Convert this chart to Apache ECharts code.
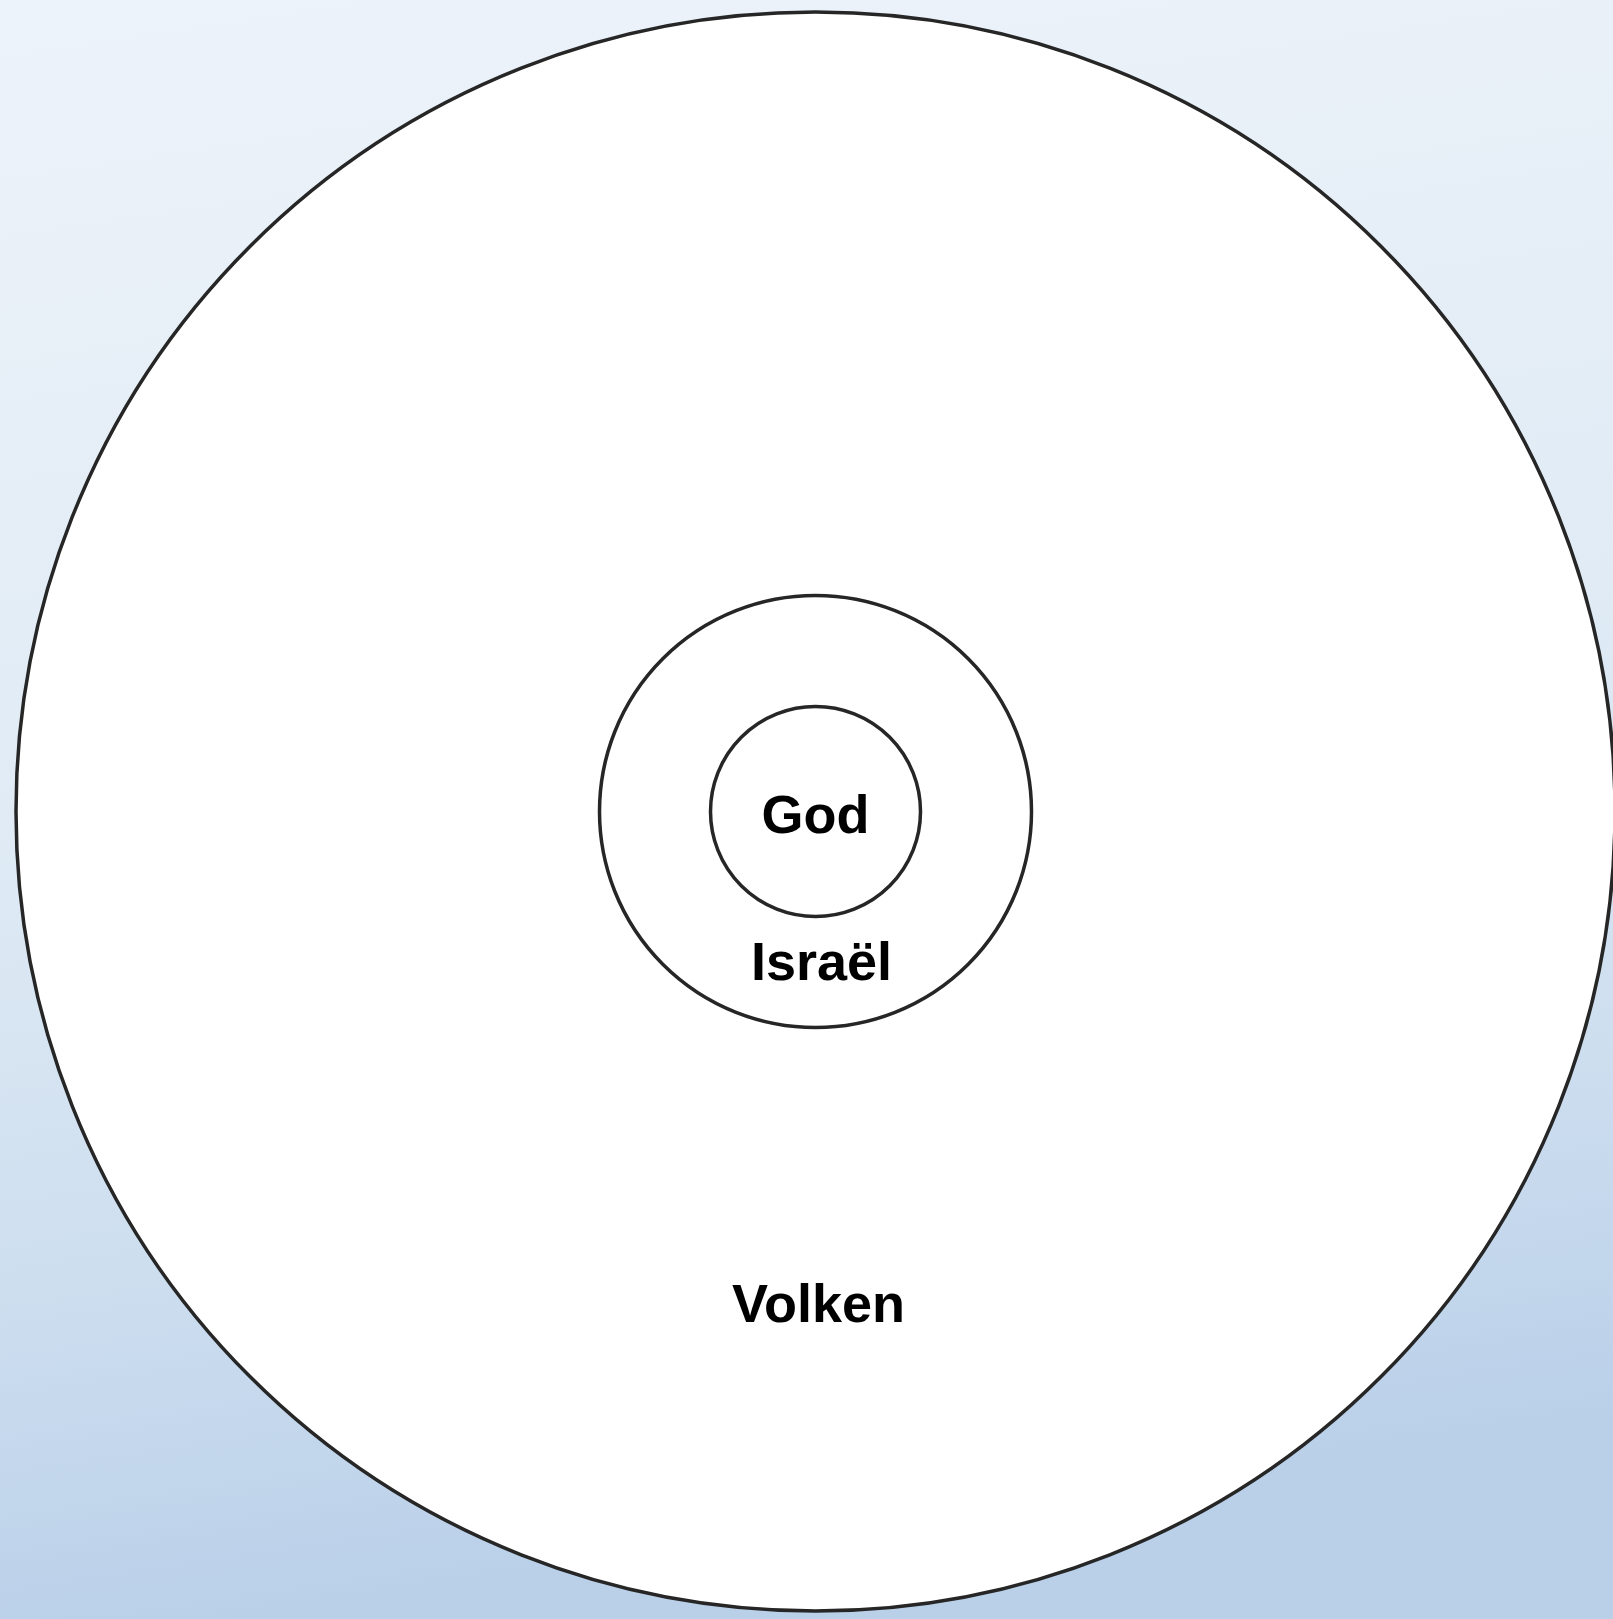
<!DOCTYPE html>
<html>
<head>
<meta charset="utf-8">
<script src="https://cdn.jsdelivr.net/npm/echarts@6/dist/echarts.min.js"></script>
<style>
html,body{margin:0;padding:0;}
#chart{width:1613px;height:1619px;}
</style>
</head>
<body>
<div id="chart"></div>
<script>
// Concentric circles: names, radii (data units), label positions (data units)
const names = ['Volken', 'Israël', 'God'];
const radii = [799.5, 216, 105];
const labelX = [3, 6, 0];
const labelY = [-496, -154, -7];

const chart = echarts.init(document.getElementById('chart'));
const data = names.map((n, i) => [0, 0, radii[i], labelX[i], labelY[i], n]);

chart.setOption({
  animation: false,
  backgroundColor: {
    type: 'linear', x: 0, y: 0, x2: 0.15, y2: 1,
    colorStops: [
      {offset: 0, color: '#edf3fa'},
      {offset: 0.5, color: '#e0ebf5'},
      {offset: 0.78, color: '#cddeef'},
      {offset: 1, color: '#bad0e9'}
    ]
  },
  grid: {left: 0, top: 0, width: 1613, height: 1619},
  xAxis: {type: 'value', min: -815.5, max: 797.5, show: false},
  yAxis: {type: 'value', min: -807.5, max: 811.5, show: false},
  series: [{
    type: 'custom',
    coordinateSystem: 'cartesian2d',
    clip: false,
    data: data,
    renderItem: function (params, api) {
      const c = api.coord([api.value(0), api.value(1)]);
      const r = api.size([api.value(2), 0])[0];
      const lp = api.coord([api.value(3), api.value(4)]);
      return {
        type: 'group',
        children: [
          {
            type: 'circle',
            shape: {cx: c[0], cy: c[1], r: r},
            style: {fill: '#ffffff', stroke: '#262626', lineWidth: 3.5}
          },
          {
            type: 'text',
            x: lp[0], y: lp[1],
            style: {
              text: data[params.dataIndex][5],
              fill: '#000000',
              font: 'bold 54px "Liberation Sans", Arial, sans-serif',
              align: 'center',
              verticalAlign: 'middle'
            },
            z2: 10
          }
        ]
      };
    }
  }]
});
</script>
</body>
</html>
